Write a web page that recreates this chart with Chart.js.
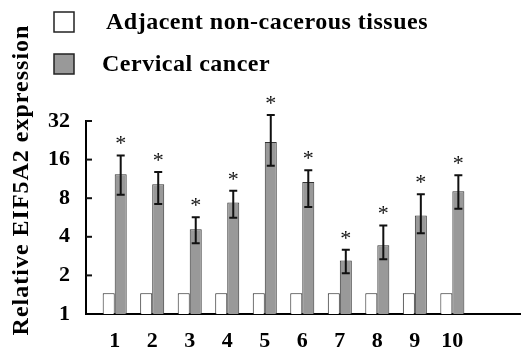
<!DOCTYPE html>
<html>
<head>
<meta charset="utf-8">
<script src="https://cdn.jsdelivr.net/npm/chart.js@4"></script>
<style>
  html, body { margin: 0; padding: 0; background: #fff; }
  #wrap { width: 521px; height: 351px; position: relative; }
</style>
</head>
<body>
<div id="wrap"><canvas id="chart"></canvas></div>
<script>
// EIF5A2 expression, adjacent tissue vs cervical cancer (log2 axis)
const xLabels = ['1', '2', '3', '4', '5', '6', '7', '8', '9', '10'];
const seriesNames = ['Adjacent non-cacerous tissues', 'Cervical cancer'];
const normalValues = [1.45, 1.45, 1.45, 1.45, 1.45, 1.45, 1.45, 1.45, 1.45, 1.45];
const cancerValues = [12.3, 10.3, 4.58, 7.4, 21.9, 10.7, 2.61, 3.44, 5.87, 9.08];
const cancerErrHigh = [17.2, 12.8, 5.69, 9.15, 35.7, 13.2, 3.17, 4.9, 8.57, 12.1];
const cancerErrLow = [8.5, 7.2, 3.57, 5.63, 14.3, 6.82, 2.08, 2.67, 4.27, 6.62];
const significant = [true, true, true, true, true, true, true, true, true, true];
const yTicks = [1, 2, 4, 8, 16, 32];
const yTitle = 'Relative EIF5A2 expression';

const FONT = '"Liberation Serif", "Times New Roman", serif';
const GRAY = '#999999';

const extras = {
  id: 'extras',
  afterDatasetsDraw(chart) {
    const { ctx, chartArea, scales: { y } } = chart;
    const meta = chart.getDatasetMeta(1);
    ctx.save();
    // error bars + asterisks
    ctx.strokeStyle = '#111';
    ctx.lineWidth = 2;
    meta.data.forEach((bar, i) => {
      const x = bar.x;
      const top = y.getPixelForValue(cancerErrHigh[i]);
      const bot = y.getPixelForValue(cancerErrLow[i]);
      ctx.beginPath();
      ctx.moveTo(x, top); ctx.lineTo(x, bot);
      ctx.moveTo(x - 4, top); ctx.lineTo(x + 4, top);
      ctx.moveTo(x - 4, bot); ctx.lineTo(x + 4, bot);
      ctx.stroke();
      if (significant[i]) {
        ctx.fillStyle = '#111';
        ctx.font = '22px ' + FONT;
        ctx.textAlign = 'center';
        ctx.textBaseline = 'middle';
        ctx.fillText('*', x, top - 11);
      }
    });
    // inward tick marks on y axis
    yTicks.slice(1).forEach(v => {
      const py = y.getPixelForValue(v);
      ctx.beginPath();
      ctx.moveTo(chartArea.left, py); ctx.lineTo(chartArea.left + 6, py);
      ctx.stroke();
    });
    ctx.restore();
  },
  afterDraw(chart) {
    const { ctx } = chart;
    ctx.save();
    // legend
    const colors = ['#ffffff', GRAY];
    const rows = [22, 64];
    const textX = [106, 102];
    ctx.font = 'bold 24px ' + FONT;
    ctx.letterSpacing = '0.5px';
    ctx.textBaseline = 'middle';
    ctx.textAlign = 'left';
    seriesNames.forEach((name, i) => {
      ctx.fillStyle = colors[i];
      ctx.fillRect(54, rows[i] - 10, 20, 20);
      ctx.strokeStyle = '#222';
      ctx.lineWidth = 1.5;
      ctx.strokeRect(54, rows[i] - 10, 20, 20);
      ctx.fillStyle = '#000';
      ctx.fillText(name, textX[i], rows[i] + 1);
    });
    // y title
    ctx.translate(22, 180);
    ctx.rotate(-Math.PI / 2);
    ctx.textAlign = 'center';
    ctx.letterSpacing = '1px';
    ctx.font = 'bold 24px ' + FONT;
    ctx.fillText(yTitle, 0, 0);
    ctx.restore();
  }
};

new Chart(document.getElementById('chart'), {
  type: 'bar',
  data: {
    datasets: [
      {
        label: seriesNames[0],
        data: normalValues.map((v, i) => ({ x: i + 1, y: v })),
        backgroundColor: '#ffffff',
        borderColor: '#222',
        borderWidth: 1
      },
      {
        label: seriesNames[1],
        data: cancerValues.map((v, i) => ({ x: i + 1, y: v })),
        backgroundColor: GRAY,
        borderColor: '#333',
        borderWidth: 1
      }
    ]
  },
  options: {
    responsive: true,
    maintainAspectRatio: false,
    animation: false,
    categoryPercentage: 0.64,
    barPercentage: 1,
    layout: { padding: { top: 121, left: 0, right: 0, bottom: 0 } },
    plugins: { legend: { display: false }, tooltip: { enabled: false } },
    scales: {
      x: {
        type: 'linear',
        min: 0.235,
        max: 11.83,
        offset: false,
        grid: { display: false, drawTicks: false, offset: false },
        border: { display: true, color: '#000', width: 2 },
        afterBuildTicks: s => { s.ticks = xLabels.map((l, i) => ({ value: i + 1 })); },
        afterFit: s => { s.height = 37; },
        ticks: {
          padding: 14,
          color: '#000',
          autoSkip: false,
          maxRotation: 0,
          font: { family: FONT, size: 22, weight: 'bold' },
          callback: (v, i) => xLabels[i]
        }
      },
      y: {
        type: 'logarithmic',
        min: 1,
        max: 32,
        grid: { display: false, drawTicks: false },
        border: { display: true, color: '#000', width: 2 },
        afterBuildTicks: s => { s.ticks = yTicks.map(v => ({ value: v })); },
        afterFit: s => { s.width = 86; },
        ticks: {
          padding: 16,
          color: '#000',
          font: { family: FONT, size: 22, weight: 'bold' },
          callback: v => String(v)
        }
      }
    }
  },
  plugins: [extras]
});
</script>
</body>
</html>
